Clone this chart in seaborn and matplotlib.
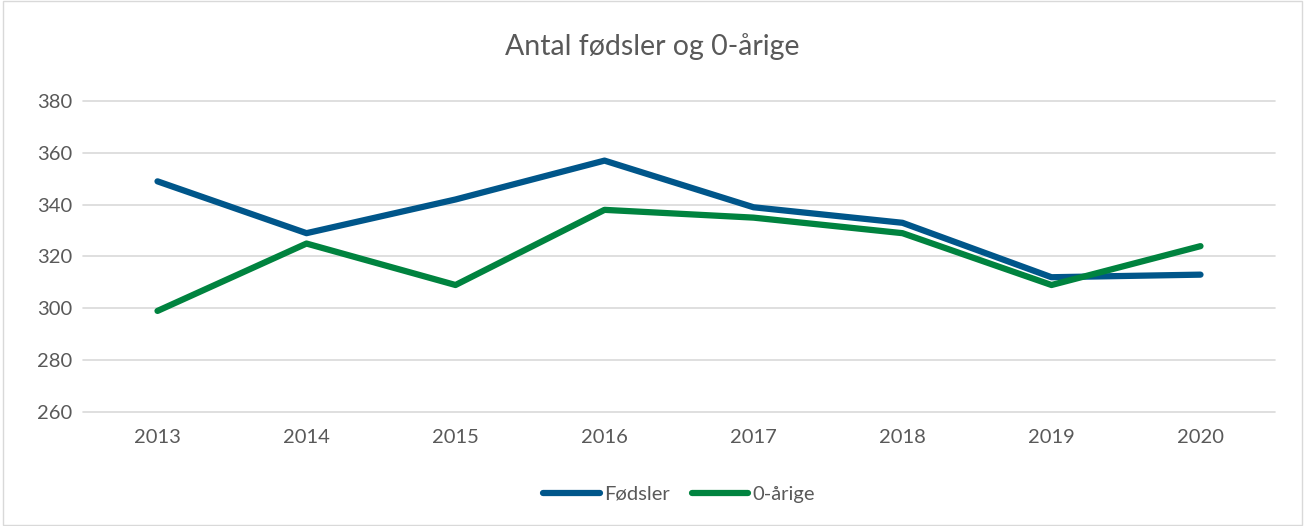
import pandas as pd
import matplotlib.pyplot as plt
import seaborn as sns
sns.set_style("white")
plt.rcParams['font.family'] = ['Lato', 'DejaVu Sans']

years = ['2013', '2014', '2015', '2016', '2017', '2018', '2019', '2020']
foedsler = [349, 329, 342, 357, 339, 333, 312, 313]
nul_aarige = [299, 325, 309, 338, 335, 329, 309, 324]
series_names = ['Fødsler', '0-årige']
colors = ['#00568A', '#00833F']

df = pd.DataFrame({'år': years * 2,
                   'antal': foedsler + nul_aarige,
                   'serie': [series_names[0]] * len(years) + [series_names[1]] * len(years)})

fig = plt.figure(figsize=(13.05, 5.26), dpi=100)
ax = fig.add_axes([83 / 1305, 1 - 412 / 526, (1275 - 83) / 1305, (412 - 101) / 526])
sns.lineplot(data=df, x='år', y='antal', hue='serie', palette=colors, linewidth=4.5,
             solid_capstyle='round', sort=False, ax=ax)

ax.set_xlim(-0.5, 7.5)
ax.set_ylim(260, 380)
ax.set_yticks(range(260, 381, 20))
ax.yaxis.grid(True, color='#D9D9D9', linewidth=1.2)
ax.set_axisbelow(True)
for s in ax.spines.values():
    s.set_visible(False)
ax.tick_params(axis='both', length=0, labelsize=14.5, labelcolor='#595959', pad=8)
ax.tick_params(axis='x', pad=12)
ax.set_xlabel('')
ax.set_ylabel('')
for gl in ax.get_ygridlines():
    gl.set_clip_on(False)

fig.text(0.5, 1 - 47 / 526, 'Antal fødsler og 0-årige', ha='center', va='center',
         fontsize=20.5, color='#595959')

ax.legend(loc='center', bbox_to_anchor=(0.5, (412 - 494) / (412 - 101)), ncol=2, frameon=False,
          fontsize=14.5, labelcolor='#595959', handlelength=2.8, handletextpad=0.2, columnspacing=1.1)

fig.patches.append(plt.Rectangle((0.002, 0.002), 0.996, 0.996, transform=fig.transFigure,
                                 fill=False, edgecolor='#D9D9D9', linewidth=1))
fig.savefig('out.png', dpi=100)
